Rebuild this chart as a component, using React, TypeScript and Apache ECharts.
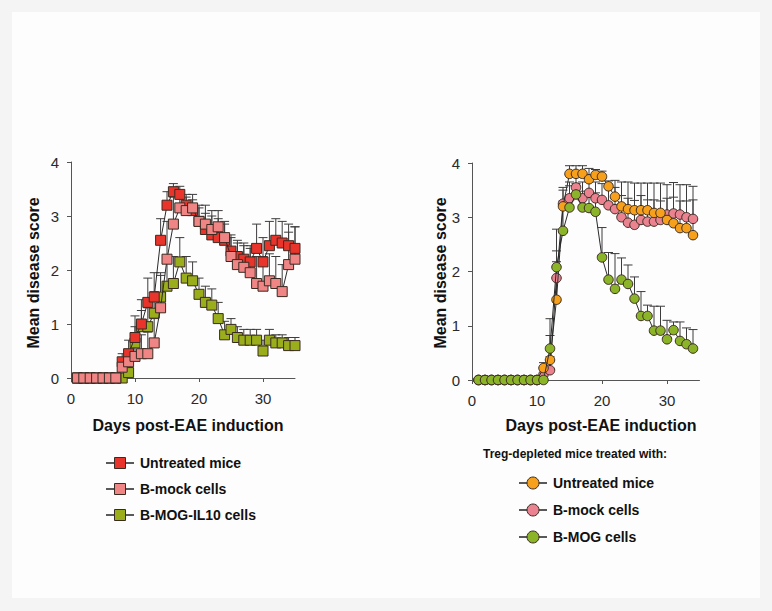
import React, { useEffect, useRef } from "react";
import * as echarts from "echarts";

// ---------- data ----------
const daysLeft = [1,2,3,4,5,6,7,8,9,10,11,12,13,14,15,16,17,18,19,20,21,22,23,24,25,26,27,28,29,30,31,32,33,34,35];
const leftUntreated = [0,0,0,0,0,0,0,0.3,0.45,0.75,1.0,1.4,1.5,2.55,3.2,3.45,3.4,3.2,3.1,2.9,2.75,2.65,2.6,2.55,2.35,2.25,2.2,2.15,2.4,2.15,2.45,2.55,2.5,2.45,2.4];
const leftMock = [0,0,0,0,0,0,0,0.2,0.3,0.4,0.45,0.45,0.65,1.3,2.2,2.85,3.15,3.1,3.15,2.9,2.85,2.75,2.8,2.6,2.25,2.1,2.05,1.95,1.75,1.7,1.8,1.75,1.6,2.1,2.2];
const leftIL10 = [0,0,0,0,0,0,0,0,0.1,0.65,0.95,0.95,1.2,1.5,1.7,1.75,2.15,1.85,1.8,1.55,1.4,1.35,1.1,0.8,0.9,0.75,0.7,0.7,0.7,0.5,0.7,0.65,0.65,0.6,0.6];
const errLeftUntreated = [0,0,0,0,0,0,0,0.15,0.25,0.4,0.45,0.45,0.45,0.4,0.25,0.15,0.15,0.2,0.2,0.25,0.3,0.35,0.35,0.3,0.3,0.3,0.3,0.3,0.45,0.45,0.45,0.4,0.4,0.4,0.4];
const errLeftMock = [0,0,0,0,0,0,0,0.1,0.15,0.3,0.35,0.4,0.45,0.6,0.7,0.5,0.3,0.25,0.25,0.3,0.35,0.35,0.3,0.3,0.35,0.4,0.4,0.45,0.5,0.55,0.5,0.5,0.5,0.6,0.6];
const errLeftIL10 = [0,0,0,0,0,0,0,0,0.1,0.3,0.3,0.35,0.4,0.45,0.45,0.5,0.45,0.4,0.35,0.3,0.3,0.3,0.3,0.25,0.2,0.2,0.2,0.2,0.2,0.2,0.2,0.15,0.15,0.15,0.15];

const daysRight = [1,2,3,4,5,6,7,8,9,10,11,12,13,14,15,16,17,18,19,20,21,22,23,24,25,26,27,28,29,30,31,32,33,34];
const rightUntreated = [0,0,0,0,0,0,0,0,0,0,0.22,0.37,1.48,3.2,3.8,3.8,3.8,3.7,3.78,3.75,3.57,3.38,3.2,3.15,3.13,3.13,3.13,3.08,3.08,2.95,2.89,2.8,2.8,2.67];
const rightMock = [0,0,0,0,0,0,0,0,0,0,0.1,0.18,1.88,3.25,3.35,3.55,3.35,3.45,3.35,3.32,3.22,3.15,3.0,2.9,2.86,2.95,2.92,2.92,2.95,3.05,3.07,3.05,3.0,2.97];
const rightMOG = [0,0,0,0,0,0,0,0,0,0,0,0.58,2.08,2.75,3.18,3.42,3.18,3.17,3.1,2.26,1.85,1.68,1.85,1.77,1.5,1.18,1.18,0.91,0.91,0.75,0.92,0.72,0.66,0.58];
const errRightUntreated = [0,0,0,0,0,0,0,0,0,0,0.1,0.45,0.7,0.3,0.15,0.15,0.15,0.2,0.1,0.1,0.1,0.3,0.45,0.5,0.5,0.5,0.5,0.55,0.55,0.65,0.75,0.8,0.8,0.9];
const errRightMock = [0,0,0,0,0,0,0,0,0,0,0.1,0.25,0.5,0.3,0.3,0.2,0.3,0.3,0.3,0.3,0.35,0.4,0.4,0.45,0.45,0.45,0.4,0.4,0.35,0.3,0.3,0.25,0.3,0.35];
const errRightMOG = [0,0,0,0,0,0,0,0,0,0,0,0.55,0.7,0.55,0.4,0.2,0.3,0.3,0.35,0.55,0.5,0.65,0.4,0.35,0.4,0.45,0.2,0.45,0.45,0.35,0.15,0.35,0.3,0.35];

const xTicks = [0, 10, 20, 30];
const xAxisTitle = "Days post-EAE induction";
const yAxisTitle = "Mean disease score";
const leftLegend = ["Untreated mice", "B-mock cells", "B-MOG-IL10 cells"];
const rightLegendTitle = "Treg-depleted mice treated with:";
const rightLegend = ["Untreated mice", "B-mock cells", "B-MOG cells"];

// ---------- styles ----------
const FONT = "'Liberation Sans', Arial, Helvetica, sans-serif";
const C_RED = "#e8342b";
const C_PINK_L = "#f08585";
const C_OLIVE = "#9aae1c";
const C_ORANGE = "#f6a01c";
const C_PINK_R = "#ea8290";
const C_GREEN = "#8cb428";
const EDGE = "#3a2b22";
const LINE = "#2a2a2a";
const ERR = "#3c3c3c";

function errSeries(days: number[], vals: number[], errs: number[], gi: number, z: number) {
  return {
    type: "custom",
    xAxisIndex: gi,
    yAxisIndex: gi,
    z,
    silent: true,
    clip: false,
    encode: { x: 0, y: 1 },
    data: days.map((d, i) => [d, vals[i], errs[i]]),
    renderItem: (params: any, api: any) => {
      const x = api.value(0);
      const y = api.value(1);
      const e = api.value(2);
      if (!e) return null;
      const p0 = api.coord([x, y]);
      const p1 = api.coord([x, y + e]);
      const st = { stroke: ERR, lineWidth: 1 };
      return {
        type: "group",
        children: [
          { type: "line", shape: { x1: p0[0], y1: p0[1], x2: p1[0], y2: p1[1] }, style: st },
          { type: "line", shape: { x1: p1[0] - 4.5, y1: p1[1], x2: p1[0] + 4.5, y2: p1[1] }, style: st },
        ],
      };
    },
  };
}

function lineSeries(name: string, days: number[], vals: number[], gi: number, symbol: string, size: number, color: string, z: number) {
  return {
    type: "line",
    name,
    xAxisIndex: gi,
    yAxisIndex: gi,
    z,
    data: days.map((d, i) => [d, vals[i]]),
    symbol,
    symbolSize: size,
    showAllSymbol: true,
    lineStyle: { color: LINE, width: 1 },
    itemStyle: { color, borderColor: EDGE, borderWidth: 1 },
    emphasis: { disabled: true },
  };
}

function xAxisDef(gi: number) {
  return {
    type: "value",
    gridIndex: gi,
    min: 0,
    max: 35,
    interval: 10,
    splitLine: { show: false },
    axisLine: { show: true, onZero: false, lineStyle: { color: "#555", width: 1 } },
    axisTick: { show: true, length: 4, customValues: xTicks, lineStyle: { color: "#555" } },
    axisLabel: { customValues: xTicks, margin: 13, fontSize: 15, color: "#2a2a2a", fontFamily: FONT },
  };
}

function yAxisDef(gi: number) {
  return {
    type: "value",
    gridIndex: gi,
    min: 0,
    max: 4,
    interval: 1,
    splitLine: { show: false },
    axisLine: { show: true, lineStyle: { color: "#555", width: 1 } },
    axisTick: { show: true, length: 4, lineStyle: { color: "#555" } },
    axisLabel: { margin: 12, fontSize: 15, color: "#2a2a2a", fontFamily: FONT },
  };
}

function legendItem(x: number, y: number, label: string, shape: string, color: string, textX: number) {
  const marker =
    shape === "rect"
      ? { type: "rect", shape: { x: x - 5.5, y: y - 5.5, width: 11, height: 11 }, style: { fill: color, stroke: EDGE, lineWidth: 1 } }
      : { type: "circle", shape: { cx: x, cy: y, r: 6 }, style: { fill: color, stroke: EDGE, lineWidth: 1 } };
  return [
    { type: "line", shape: { x1: x - 14, y1: y, x2: x + 14, y2: y }, style: { stroke: "#222", lineWidth: 1.5 } },
    marker,
    {
      type: "text",
      x: textX,
      y,
      style: { text: label, font: `bold 14px ${FONT}`, fill: "#111", textAlign: "left", textVerticalAlign: "middle" },
    },
  ];
}

export default function App() {
  const ref = useRef<HTMLDivElement>(null);
  useEffect(() => {
    if (!ref.current) return;
    const chart = echarts.init(ref.current, null, { renderer: "svg" });
    const leftRows = [463, 489, 515];
    const rightRows = [483, 510, 537];
    const option: any = {
      animation: false,
      backgroundColor: "#f4f4f4",
      grid: [
        { left: 71, top: 162, width: 224, height: 216 },
        { left: 472, top: 163, width: 227.5, height: 217 },
      ],
      xAxis: [xAxisDef(0), xAxisDef(1)],
      yAxis: [yAxisDef(0), yAxisDef(1)],
      graphic: [
        { type: "rect", z: -10, shape: { x: 12, y: 12, width: 748, height: 586 }, style: { fill: "#fdfdfd" } },
        { type: "text", x: 33, y: 273, rotation: Math.PI / 2, style: { text: yAxisTitle, font: `bold 16px ${FONT}`, fill: "#111", textAlign: "center", textVerticalAlign: "middle" } },
        { type: "text", x: 440, y: 273, rotation: Math.PI / 2, style: { text: yAxisTitle, font: `bold 16px ${FONT}`, fill: "#111", textAlign: "center", textVerticalAlign: "middle" } },
        { type: "text", x: 188, y: 425, style: { text: xAxisTitle, font: `bold 16px ${FONT}`, fill: "#111", textAlign: "center", textVerticalAlign: "middle" } },
        { type: "text", x: 601, y: 425, style: { text: xAxisTitle, font: `bold 16px ${FONT}`, fill: "#111", textAlign: "center", textVerticalAlign: "middle" } },
        ...legendItem(120, leftRows[0], leftLegend[0], "rect", C_RED, 140),
        ...legendItem(120, leftRows[1], leftLegend[1], "rect", C_PINK_L, 140),
        ...legendItem(120, leftRows[2], leftLegend[2], "rect", C_OLIVE, 140),
        { type: "text", x: 575, y: 454, style: { text: rightLegendTitle, font: `bold 12px ${FONT}`, fill: "#111", textAlign: "center", textVerticalAlign: "middle" } },
        ...legendItem(533, rightRows[0], rightLegend[0], "circle", C_ORANGE, 553),
        ...legendItem(533, rightRows[1], rightLegend[1], "circle", C_PINK_R, 553),
        ...legendItem(533, rightRows[2], rightLegend[2], "circle", C_GREEN, 553),
      ],
      series: [
        errSeries(daysLeft, leftIL10, errLeftIL10, 0, 1),
        errSeries(daysLeft, leftUntreated, errLeftUntreated, 0, 1),
        errSeries(daysLeft, leftMock, errLeftMock, 0, 1),
        lineSeries(leftLegend[2], daysLeft, leftIL10, 0, "rect", 10, C_OLIVE, 2),
        lineSeries(leftLegend[0], daysLeft, leftUntreated, 0, "rect", 10, C_RED, 3),
        lineSeries(leftLegend[1], daysLeft, leftMock, 0, "rect", 10, C_PINK_L, 4),
        errSeries(daysRight, rightMock, errRightMock, 1, 1),
        errSeries(daysRight, rightUntreated, errRightUntreated, 1, 1),
        errSeries(daysRight, rightMOG, errRightMOG, 1, 1),
        lineSeries(rightLegend[1], daysRight, rightMock, 1, "circle", 9.5, C_PINK_R, 2),
        lineSeries(rightLegend[0], daysRight, rightUntreated, 1, "circle", 9.5, C_ORANGE, 3),
        lineSeries(rightLegend[2], daysRight, rightMOG, 1, "circle", 9.5, C_GREEN, 4),
      ],
    };
    chart.setOption(option);
    return () => chart.dispose();
  }, []);
  return <div ref={ref} style={{ position: "fixed", left: 0, top: 0, width: 772, height: 611 }} />;
}
